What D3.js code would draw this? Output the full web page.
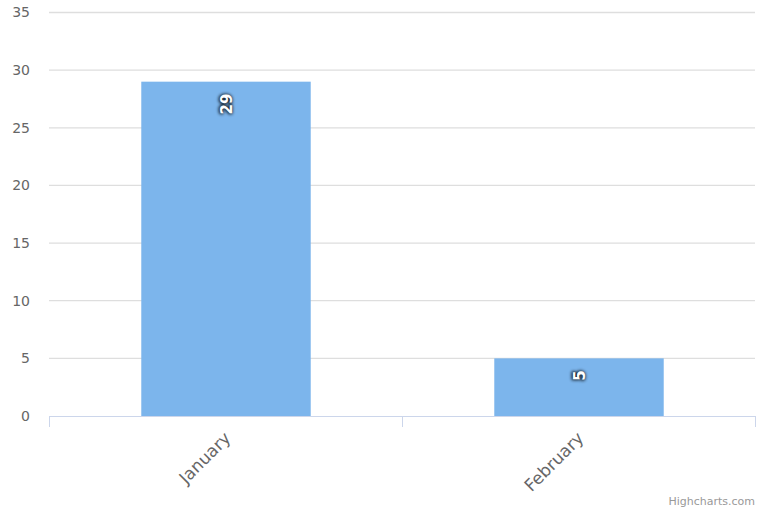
<!DOCTYPE html>
<html>
<head>
<meta charset="utf-8">
<script src="https://cdn.jsdelivr.net/npm/d3@7"></script>
<style>
  body { margin: 0; background: #fff; }
  svg { font-family: "DejaVu Sans", sans-serif; }
  .grid line { stroke: #dedede; }
  .axis text { fill: #666; }
</style>
</head>
<body>
<svg width="768" height="512"></svg>
<script>
var categories = ["January", "February"];
var values = [29, 5];
var yTicks = [0, 5, 10, 15, 20, 25, 30, 35];

var svg = d3.select("svg"),
    margin = {top: 12.5, right: 13, bottom: 96, left: 49},
    width = 768 - margin.left - margin.right,
    height = 512 - margin.top - margin.bottom,
    g = svg.append("g").attr("transform", "translate(" + margin.left + "," + margin.top + ")");

var defs = svg.append("defs");
defs.append("filter")
    .attr("id", "glow")
    .attr("x", "-50%").attr("y", "-50%")
    .attr("width", "200%").attr("height", "200%")
  .append("feGaussianBlur")
    .attr("stdDeviation", 1.8);

var x = d3.scaleBand()
    .domain(categories)
    .range([0, width]);

var y = d3.scaleLinear()
    .domain([0, 35])
    .range([height, 0]);

// grid
g.append("g")
    .attr("class", "grid")
  .selectAll("line")
  .data(yTicks.filter(function(d) { return d > 0; }))
  .enter().append("line")
    .attr("x1", 0)
    .attr("x2", width)
    .attr("y1", function(d) { return y(d); })
    .attr("y2", function(d) { return y(d); })
    .attr("stroke-width", 1.3);

// y labels
g.append("g")
    .attr("class", "axis")
  .selectAll("text")
  .data(yTicks)
  .enter().append("text")
    .attr("x", -19)
    .attr("y", function(d) { return y(d); })
    .attr("dy", "0.35em")
    .attr("text-anchor", "end")
    .style("font-size", "14px")
    .text(function(d) { return d; });

// bars
var bw = x.bandwidth() * 0.6 * 0.8;
g.selectAll(".bar")
  .data(values)
  .enter().append("rect")
    .attr("class", "bar")
    .attr("fill", "#7cb5ec")
    .attr("x", function(d, i) { return x(categories[i]) + (x.bandwidth() - bw) / 2 + 0.5; })
    .attr("y", function(d) { return y(d); })
    .attr("width", bw)
    .attr("height", function(d) { return height - y(d); });

// x axis
var xa = g.append("g")
    .attr("class", "axis")
    .attr("transform", "translate(0," + height + ")");
xa.append("line")
    .attr("x1", 0).attr("x2", width)
    .attr("y1", 0.5).attr("y2", 0.5)
    .attr("stroke", "#ccd6eb");
xa.selectAll(".tick")
  .data(d3.range(categories.length + 1))
  .enter().append("line")
    .attr("x1", function(d) { return Math.round(d * x.step()) + 0.5; })
    .attr("x2", function(d) { return Math.round(d * x.step()) + 0.5; })
    .attr("y1", 0).attr("y2", 11)
    .attr("stroke", "#ccd6eb");
xa.selectAll("text")
  .data(categories)
  .enter().append("text")
    .attr("transform", function(d) {
      return "translate(" + (x(d) + x.bandwidth() / 2 + 2) + ",19) rotate(-45)";
    })
    .attr("text-anchor", "end")
    .attr("dy", "0.35em")
    .style("font-size", "17px")
    .text(function(d) { return d; });

// data labels
var labels = g.selectAll(".lbl")
  .data(values)
  .enter().append("g")
    .attr("transform", function(d, i) {
      return "translate(" + (x(categories[i]) + x.bandwidth() / 2 + 1) + "," + (y(d) + 12) + ") rotate(-90)";
    });
labels.append("text")
    .attr("text-anchor", "end")
    .attr("dy", "0.36em")
    .style("font-size", "15px")
    .style("font-weight", "bold")
    .attr("fill", "#000")
    .attr("stroke", "#000")
    .attr("stroke-width", 2)
    .attr("stroke-linejoin", "round")
    .attr("filter", "url(#glow)")
    .attr("opacity", 0.8)
    .text(function(d) { return d; });
labels.append("text")
    .attr("text-anchor", "end")
    .attr("dy", "0.36em")
    .style("font-size", "15px")
    .style("font-weight", "bold")
    .attr("fill", "#fff")
    .text(function(d) { return d; });

// credits
svg.append("text")
    .attr("x", 755)
    .attr("y", 505)
    .attr("text-anchor", "end")
    .attr("fill", "#999")
    .style("font-size", "11px")
    .text("Highcharts.com");
</script>
</body>
</html>
